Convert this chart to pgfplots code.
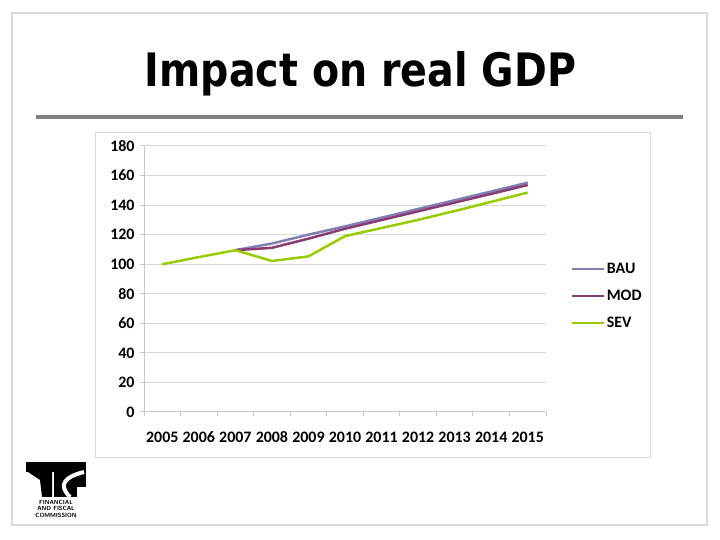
\documentclass[border=0pt]{standalone}
\usepackage{graphicx}
\usepackage{pgfplots}
\pgfplotsset{compat=1.18}
\usepackage{pgfplotstable}
\usepackage{fontspec}
\setmainfont{Carlito}
\newfontfamily\titlefont{DejaVu Sans}
\definecolor{bau}{RGB}{128,128,178}
\definecolor{mod}{RGB}{135,60,115}
\definecolor{sev}{RGB}{153,204,0}
\definecolor{gridc}{RGB}{217,217,217}
\definecolor{axc}{RGB}{200,200,200}
\definecolor{rulec}{RGB}{128,128,128}
\definecolor{framec}{RGB}{217,217,217}

\pgfplotstableread{
year BAU MOD SEV
2005 nan nan 100
2006 nan nan 104.8
2007 109.5 109.5 109.5
2008 114 111.1 102.2
2009 120 117.3 105.3
2010 125.6 124 119
2011 131.5 129.9 124.5
2012 137.4 135.8 130
2013 143.3 141.7 136
2014 149.2 147.6 142.2
2015 155.2 153.6 148.5
}\gdpdata

\begin{document}
\begin{tikzpicture}
\useasboundingbox (0,0) rectangle (720bp,540bp);
\fill[white] (0,0) rectangle (720bp,540bp);
% slide frame
\draw[framec, line width=2.5bp] (12bp,15bp) rectangle (707bp,527bp);
% title
\node[anchor=base, inner sep=0pt] at (360.5bp,453bp) {\resizebox{431bp}{35bp}{\titlefont\bfseries Impact on real GDP}};
% rule
\draw[rulec, line width=4bp] (36bp,423bp) -- (683bp,423bp);
% chart frame
\draw[framec, line width=1bp] (95bp,82bp) rectangle (650bp,407bp);
% logo
\begin{scope}[x=1bp,y=1bp,yshift=540bp,yscale=-1]
  \fill[black] (26,462) rectangle (86,472);
  \fill[black] (28,472) -- (52,472) -- (52,497) -- (42,497) -- (40,480) -- cycle;
  \fill[black] (54,472) rectangle (86,497);
  \draw[white, line width=4bp] (84,472) .. controls (64,477) and (58,485) .. (70,497);
  \fill[white] (77,487) rectangle (86,497);
  \node[font=\sffamily\bfseries\fontsize{6}{6}\selectfont, inner sep=0pt] at (56,502) {FINANCIAL};
  \node[font=\sffamily\bfseries\fontsize{6}{6}\selectfont, inner sep=0pt] at (56,508.5) {AND FISCAL};
  \node[font=\sffamily\bfseries\fontsize{6}{6}\selectfont, inner sep=0pt] at (56,515) {COMMISSION};
\end{scope}
\begin{axis}[
  at={(144bp,128bp)}, anchor=south west,
  scale only axis, width=402bp, height=266bp,
  xmin=2004.5, xmax=2015.5, ymin=0, ymax=180,
  axis lines*=left,
  axis line style={axc, line width=1bp},
  tick align=outside,
  major tick length=4bp,
  tick style={axc, line width=1bp},
  ytick={0,20,...,180},
  yticklabel style={xshift=-2bp},
  xtick={2004.5,2005.5,...,2015.5},
  xticklabels={},
  extra x ticks={2005,2006,...,2015},
  extra x tick style={major tick length=0pt,
    xticklabel style={anchor=north, text height=11bp, text depth=0pt, inner sep=0pt, yshift=-19bp}},
  ymajorgrids,
  grid style={gridc, line width=1bp},
  tick label style={font=\fontsize{16}{19}\selectfont\bfseries},
  /pgf/number format/assume math mode=true,
  /pgf/number format/1000 sep={},
  legend style={at={(axis description cs:1.06,0.436)}, anchor=west, draw=none, fill=none,
    font=\fontsize{16}{19}\selectfont\bfseries, row sep=11bp, inner sep=0pt},
  legend cell align=left,
  legend image code/.code={\draw[#1] (0bp,0bp) -- (32bp,0bp);},
  every axis plot/.append style={line width=2.5bp},
]
\addplot[bau, no markers] table[x=year, y=BAU] {\gdpdata};
\addlegendentry{BAU}
\addplot[mod, no markers] table[x=year, y=MOD] {\gdpdata};
\addlegendentry{MOD}
\addplot[sev, no markers] table[x=year, y=SEV] {\gdpdata};
\addlegendentry{SEV}
\end{axis}
\end{tikzpicture}
\end{document}
